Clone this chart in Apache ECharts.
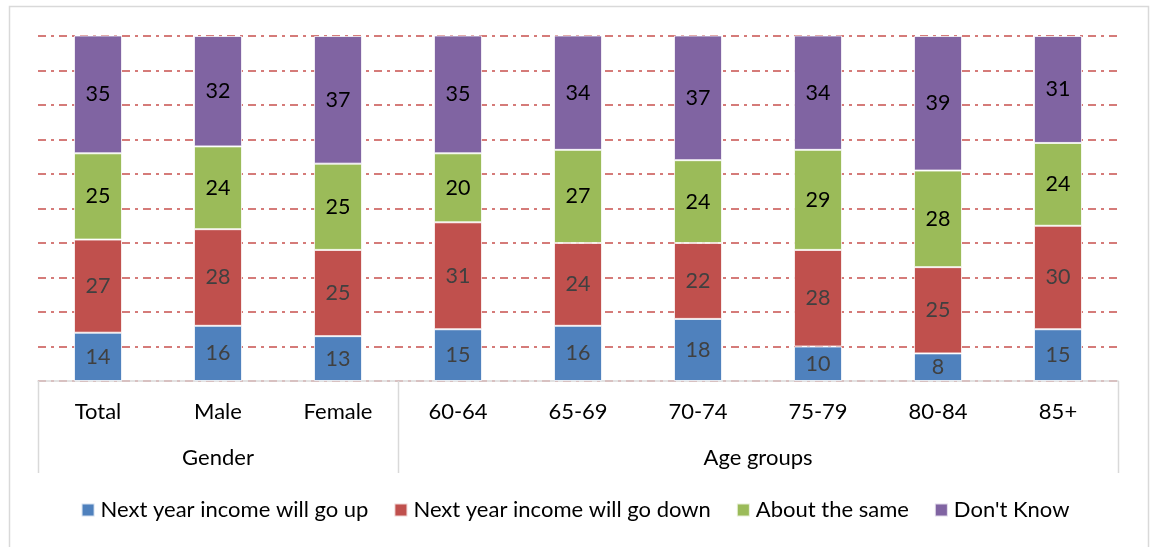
<!DOCTYPE html>
<html>
<head>
<meta charset="utf-8">
<script src="https://cdn.jsdelivr.net/npm/echarts@6/dist/echarts.min.js"></script>
<style>
  html, body { margin: 0; padding: 0; background: #fff; }
  #chart { width: 1150px; height: 547px; }
</style>
</head>
<body>
<div id="chart"></div>
<script>
// Income expectations by gender and age group (percent)
const categories = ['Total', 'Male', 'Female', '60-64', '65-69', '70-74', '75-79', '80-84', '85+'];
const groups = [
  { name: 'Gender', from: 0, to: 2 },
  { name: 'Age groups', from: 3, to: 8 }
];
const seriesNames = ['Next year income will go up', 'Next year income will go down', 'About the same', "Don't Know"];
const goUp    = [14, 16, 13, 15, 16, 18, 10, 8, 15];
const goDown  = [27, 28, 25, 31, 24, 22, 28, 25, 30];
const same    = [25, 24, 25, 20, 27, 24, 29, 28, 24];
const dontKnow = [35, 32, 37, 35, 34, 37, 34, 39, 31];

const colors = ['#4f81bd', '#c0504d', '#9bbb59', '#8064a2'];
const labelColors = ['#404040', '#404040', '#000000', '#000000'];
const FONT = 'Lato, "Noto Sans", sans-serif';
const FONT_SIZE = 22;

const chart = echarts.init(document.getElementById('chart'));

const seriesData = [goUp, goDown, same, dontKnow];
const series = seriesData.map((vals, i) => ({
  name: seriesNames[i],
  type: 'bar',
  stack: 'total',
  barWidth: '40%',
  clip: true,
  data: vals,
  itemStyle: { color: colors[i], borderColor: 'rgba(255,255,255,0.75)', borderWidth: 1 },
  label: {
    show: true,
    position: 'inside',
    color: labelColors[i],
    fontFamily: FONT,
    fontSize: 21.5
  }
}));

const option = {
  animation: false,
  backgroundColor: '#fff',
  grid: { left: 38, right: 32, top: 36, bottom: 166 },
  xAxis: {
    type: 'category',
    data: categories,
    axisLine: { lineStyle: { color: '#d9d9d9', width: 1.5 } },
    axisTick: { show: false },
    axisLabel: { color: '#000', fontFamily: FONT, fontSize: FONT_SIZE, margin: 20 }
  },
  yAxis: {
    type: 'value',
    min: 0,
    max: 100,
    interval: 10,
    axisLabel: { show: false },
    axisLine: { show: false },
    axisTick: { show: false },
    splitLine: {
      lineStyle: { color: '#c8504d', width: 1.5, type: [8, 5, 3, 5] }
    }
  },
  legend: {
    bottom: 21,
    left: 'center',
    itemWidth: 13,
    itemHeight: 13,
    itemGap: 25,
    icon: 'rect',
    textStyle: { color: '#000', fontFamily: FONT, fontSize: FONT_SIZE, padding: [0, 0, 0, 1] },
    data: seriesNames
  },
  series: series
};

chart.setOption(option);

// Outer frame plus the grouped second row of the category axis
function boundaryX(idx) {
  const c0 = chart.convertToPixel({ xAxisIndex: 0 }, categories[0]);
  const c1 = chart.convertToPixel({ xAxisIndex: 0 }, categories[1]);
  const step = c1 - c0;
  return c0 - step / 2 + idx * step;
}
const axisY = chart.convertToPixel({ yAxisIndex: 0 }, 0);
const lineBottom = axisY + 92;
const graphics = [
  {
    type: 'rect',
    shape: { x: 9.5, y: 6.5, width: 1139, height: 560 },
    style: { fill: 'none', stroke: '#d9d9d9', lineWidth: 1.5 },
    silent: true
  }
];
const bounds = new Set();
groups.forEach(g => { bounds.add(g.from); bounds.add(g.to + 1); });
bounds.forEach(b => {
  const x = Math.round(boundaryX(b)) + 0.5;
  graphics.push({
    type: 'line',
    shape: { x1: x, y1: axisY, x2: x, y2: lineBottom },
    style: { stroke: '#d9d9d9', lineWidth: 1.5 },
    silent: true
  });
});
groups.forEach(g => {
  const cx = (boundaryX(g.from) + boundaryX(g.to + 1)) / 2;
  graphics.push({
    type: 'text',
    x: cx,
    y: axisY + 77,
    style: {
      text: g.name,
      fill: '#000',
      font: FONT_SIZE + 'px ' + FONT,
      textAlign: 'center',
      textVerticalAlign: 'middle'
    },
    silent: true
  });
});
chart.setOption({ graphic: graphics });
</script>
</body>
</html>
